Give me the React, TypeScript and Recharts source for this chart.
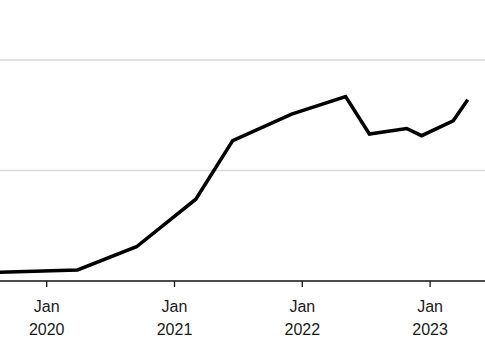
import { LineChart, Line, XAxis, YAxis, ReferenceLine } from "recharts";

const dates = [
  "2019-08-01",
  "2020-03-28",
  "2020-09-14",
  "2021-03-01",
  "2021-06-15",
  "2021-12-01",
  "2022-05-03",
  "2022-07-10",
  "2022-10-25",
  "2022-12-07",
  "2023-03-06",
  "2023-04-17",
];
const values = [7.7, 10, 31, 74, 127, 151, 167, 133, 138, 131.5, 145, 164];

const tickYears = [2020, 2021, 2022, 2023];
const gridValues = [100, 200];

const toYear = (s: string) => {
  const [y, m, d] = s.split("-").map(Number);
  return y + (m - 1 + (d - 1) / 30) / 12;
};

const data = dates.map((d, i) => ({ t: toYear(d), v: values[i] }));

const FONT = "'Liberation Sans', Arial, Helvetica, sans-serif";

function YearTick(props: any) {
  const { x, y, payload } = props;
  return (
    <g>
      <text x={x} y={y} dy={23} textAnchor="middle" fontSize={16} fill="#1a1a1a" fontFamily={FONT}>
        Jan
      </text>
      <text x={x} y={y} dy={45.5} textAnchor="middle" fontSize={16} fill="#1a1a1a" fontFamily={FONT}>
        {payload.value}
      </text>
    </g>
  );
}

export default function App() {
  return (
    <div style={{ position: "absolute", left: 0, top: 0, background: "#fff" }}>
      <LineChart width={485} height={360} data={data} margin={{ top: 0, right: 0, bottom: 0, left: 0 }}>
        <XAxis
          dataKey="t"
          type="number"
          domain={[2019.6346, 2023.4296]}
          allowDataOverflow
          ticks={tickYears}
          height={79}
          axisLine={{ stroke: "#111", strokeWidth: 1.3 }}
          tickLine={{ stroke: "#111", strokeWidth: 1.3 }}
          tickSize={6}
          tick={<YearTick />}
          interval={0}
        />
        <YAxis hide domain={[0, 254.3]} allowDataOverflow />
        {gridValues.map((g) => (
          <ReferenceLine key={g} y={g} stroke="#dadada" strokeWidth={1.5} />
        ))}
        <Line
          type="linear"
          dataKey="v"
          stroke="#000"
          strokeWidth={3.5}
          dot={false}
          isAnimationActive={false}
        />
      </LineChart>
    </div>
  );
}
